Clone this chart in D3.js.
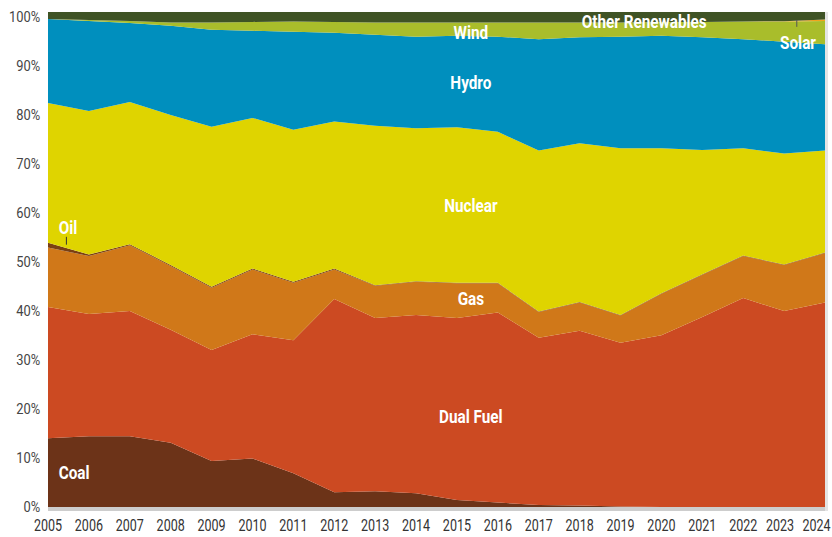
<!DOCTYPE html>
<html>
<head>
<meta charset="utf-8">
<script src="https://cdn.jsdelivr.net/npm/d3@7"></script>
<style>
  body { margin: 0; background: #fff; }
  svg text { font-family: "Roboto", "Noto Sans", sans-serif; }
</style>
</head>
<body>
<div id="chart"></div>
<script>
// share of generation by fuel, percent
var years = [2005,2006,2007,2008,2009,2010,2011,2012,2013,2014,2015,2016,2017,2018,2019,2020,2021,2022,2023,2024];
var coal = [13.9,14.3,14.3,13.0,9.3,9.8,6.8,3.0,3.2,2.8,1.4,0.9,0.4,0.3,0.1,0,0,0,0,0];
var dualFuel = [26.5,24.7,25.3,22.8,22.4,25.1,26.9,39.0,35.0,36.0,36.8,38.4,33.8,35.3,33.1,34.7,38.4,42.2,39.6,41.3];
var gas = [12.0,11.7,13.3,12.9,12.6,13.1,11.6,6.0,6.5,6.7,7.0,5.9,5.2,5.7,5.5,8.4,8.5,8.5,9.3,10.0];
var oil = [1.0,0.3,0.2,0.2,0.2,0.2,0.2,0.2,0.1,0.1,0.1,0.1,0.1,0.1,0.1,0.1,0.1,0.1,0.1,0.1];
var nuclear = [28.2,29.0,28.7,30.3,32.3,30.4,30.7,29.7,32.2,30.9,31.4,30.5,32.5,32.1,33.7,29.3,25.1,21.7,22.4,20.6];
var hydro = [17.0,18.2,16.0,18.0,19.6,17.6,19.8,17.9,18.4,18.5,18.5,19.2,22.5,21.4,22.5,22.7,22.8,22.0,22.6,21.5];
var wind = [0,0.2,0.4,0.7,1.5,1.8,2.1,2.2,2.5,2.9,2.7,2.9,3.4,3.0,2.9,2.8,3.1,3.6,4.1,4.7];
var solar = [0,0,0,0,0,0,0,0,0,0,0,0,0,0,0,0,0,0,0.05,0.3];
var otherRen = [1.4,1.6,1.8,2.1,2.1,2.0,1.9,2.0,2.1,2.1,2.1,2.1,2.1,2.1,2.1,2.0,2.0,1.9,1.85,1.5];

var seriesNames = ["Coal","Dual Fuel","Gas","Oil","Nuclear","Hydro","Wind","Solar","Other Renewables"];
var seriesValues = [coal,dualFuel,gas,oil,nuclear,hydro,wind,solar,otherRen];
var seriesColors = ["#6c3318","#cc4a22","#d07819","#7a3f12","#dfd400","#008fbe","#a9bd2b","#f2a41c","#3f5325"];
var yTicks = [0,10,20,30,40,50,60,70,80,90,100];

// where the series names sit, in data units
var labels = [
  {text:"Other Renewables", year:2019.58, pct:98.0},
  {text:"Wind", year:2015.34, pct:95.8},
  {text:"Solar", year:2023.34, pct:93.8},
  {text:"Hydro", year:2015.34, pct:85.7},
  {text:"Nuclear", year:2015.34, pct:60.8},
  {text:"Gas", year:2015.34, pct:42.0},
  {text:"Dual Fuel", year:2015.34, pct:18.2},
  {text:"Coal", year:2005.64, pct:6.9},
  {text:"Oil", year:2005.49, pct:56.4}
];

var svgWidth = 832;
var svgHeight = 537;
var margin = {top:12, right:7, bottom:30, left:48};
var width = svgWidth-margin.left-margin.right;
var height = svgHeight-margin.top-margin.bottom;

var svg = d3.select("#chart")
            .append("svg")
            .attr("width", svgWidth)
            .attr("height", svgHeight);
var chartGroup = svg.append("g")
                    .attr("transform", `translate(${margin.left}, ${margin.top})`);

var rows = years.map(function(yr, i) {
    var row = {year: yr};
    seriesNames.forEach(function(name, j) { row[name] = seriesValues[j][i]; });
    return row;
});

var layers = d3.stack().keys(seriesNames)(rows);

var xScale = d3.scaleLinear().domain([2005, 2024]).range([0, width]);
var yScale = d3.scaleLinear().domain([0, 100]).range([height, 0]);
// tick labels in the source sit a little lower toward the top
var yLabelScale = yScale.copy().range([height, 4.7]);

var area = d3.area()
    .x(d => xScale(d.data.year))
    .y0(d => yScale(d[0]))
    .y1(d => yScale(d[1]));

// gray shadow along the bottom and right of the plot
chartGroup.append("rect")
    .attr("x", 0).attr("y", height)
    .attr("width", width+3).attr("height", 4)
    .attr("fill", "#cdcdcd");
chartGroup.append("rect")
    .attr("x", width).attr("y", 0)
    .attr("width", 3).attr("height", height+4)
    .attr("fill", "#e4e4e4");

chartGroup.selectAll("path.layer")
    .data(layers)
    .enter()
    .append("path")
    .attr("class", "layer")
    .attr("d", area)
    .attr("fill", (d, i) => seriesColors[i]);

// y axis
var leftAxis = d3.axisLeft(yLabelScale).tickValues(yTicks).tickSize(0).tickPadding(9).tickFormat(d => d + "%");
var yAxisG = chartGroup.append("g").call(leftAxis);
yAxisG.select(".domain").remove();
yAxisG.selectAll("text")
    .attr("fill", "#444")
    .attr("font-size", "15px")
    .attr("transform", "scale(0.86,1)");

// x axis labels, pushed left near the right edge so they stay on the page
var xPos = years.map(yr => xScale(yr) + margin.left);
for (var i = xPos.length-1; i >= 0; i--) {
    var limit = (i == xPos.length-1) ? svgWidth-15.5 : xPos[i+1]-36.5;
    xPos[i] = Math.min(xPos[i], limit);
}
svg.selectAll("text.year")
    .data(years)
    .enter()
    .append("text")
    .attr("class", "year")
    .attr("transform", (d, i) => `translate(${xPos[i]},${svgHeight-6}) scale(0.76,1)`)
    .attr("text-anchor", "middle")
    .attr("font-size", "16.5px")
    .attr("fill", "#333")
    .text(d => d);

// leader lines for the thin series
chartGroup.append("line")
    .attr("x1", xScale(2005.45)).attr("x2", xScale(2005.45))
    .attr("y1", yScale(56.4)+9).attr("y2", yScale(coal[0]+dualFuel[0]+gas[0]+oil[0]) + 2)
    .attr("stroke", "#333").attr("stroke-width", 1);
chartGroup.append("line")
    .attr("x1", xScale(2023.31)).attr("x2", xScale(2023.31))
    .attr("y1", yScale(98.4)).attr("y2", yScale(97.0))
    .attr("stroke", "#555").attr("stroke-width", 1);

chartGroup.selectAll("text.series")
    .data(labels)
    .enter()
    .append("text")
    .attr("class", "series")
    .attr("transform", d => `translate(${xScale(d.year)},${yScale(d.pct)}) scale(0.85,1)`)
    .attr("dy", "0.35em")
    .attr("text-anchor", "middle")
    .attr("font-size", "18px")
    .attr("font-weight", "bold")
    .attr("fill", "#fff")
    .text(d => d.text);
</script>
</body>
</html>
